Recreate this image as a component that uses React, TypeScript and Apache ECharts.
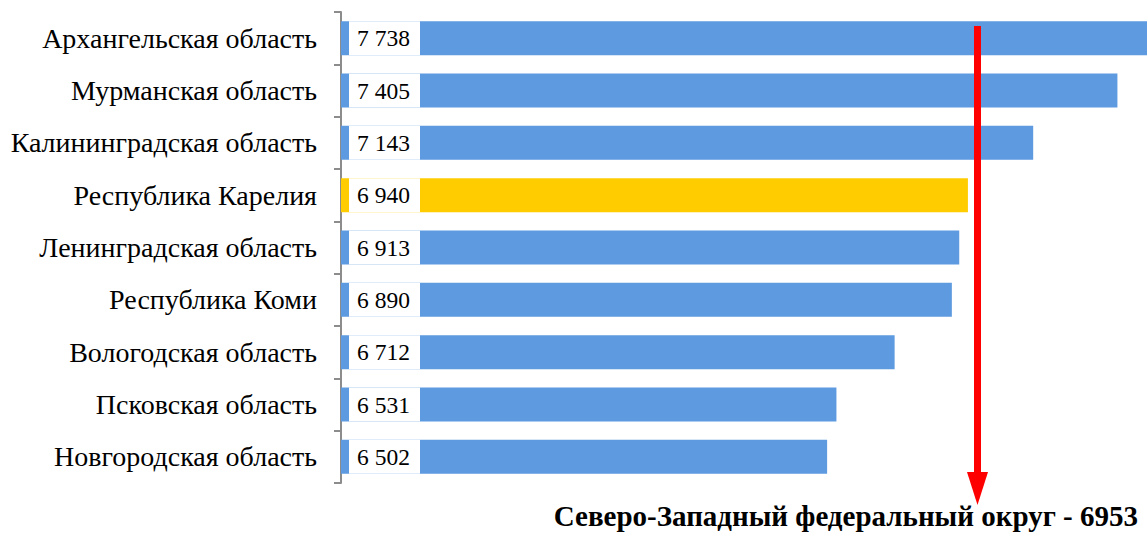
import React, { useEffect, useRef } from "react";
import * as echarts from "echarts";

const categories = [
  "Архангельская область",
  "Мурманская область",
  "Калининградская область",
  "Республика Карелия",
  "Ленинградская область",
  "Республика Коми",
  "Вологодская область",
  "Псковская область",
  "Новгородская область",
];
const values = [7738, 7405, 7143, 6940, 6913, 6890, 6712, 6531, 6502];
const highlighted = "Республика Карелия";
const districtLabel = "Северо-Западный федеральный округ - 6953";

const FONT = "'Times New Roman', 'Liberation Serif', serif";

const fmt = (v: number) => {
  const s = String(v);
  return s.length > 3 ? s.slice(0, s.length - 3) + " " + s.slice(-3) : s;
};

export default function App() {
  const ref = useRef<HTMLDivElement>(null);
  useEffect(() => {
    const chart = echarts.init(ref.current!, null, { renderer: "svg" });
    chart.setOption({
      animation: false,
      textStyle: { fontFamily: FONT },
      grid: { left: 341, right: 0, top: 12, bottom: 50 },
      xAxis: {
        type: "value",
        min: 4990,
        max: 7497,
        show: false,
      },
      yAxis: {
        type: "category",
        data: categories,
        inverse: true,
        axisLine: { show: true, lineStyle: { color: "#8c8c8c", width: 2 } },
        axisTick: { show: true, length: 7, lineStyle: { color: "#8c8c8c", width: 2 } },
        axisLabel: {
          margin: 24,
          color: "#000",
          fontFamily: FONT,
          fontSize: 28,
        },
      },
      series: [
        {
          type: "bar",
          barWidth: 34,
          data: categories.map((c, i) => ({
            value: values[i],
            itemStyle: { color: c === highlighted ? "#FFCC00" : "#5D9AE0" },
          })),
          label: {
            show: true,
            position: "insideLeft",
            distance: 8,
            formatter: (p: any) => fmt(p.value),
            backgroundColor: "#fff",
            color: "#000",
            fontFamily: FONT,
            fontSize: 23.5,
            width: 63,
            height: 34,
            lineHeight: 34,
            padding: [0, 0, 0, 8],
          },
        },
      ],
      graphic: [
        {
          type: "rect",
          z: 100,
          shape: { x: 974, y: 26, width: 7, height: 447 },
          style: { fill: "#FF0000" },
        },
        {
          type: "polygon",
          z: 100,
          shape: { points: [[967, 472], [988, 472], [977.5, 505]] },
          style: { fill: "#FF0000" },
        },
        {
          type: "text",
          z: 100,
          x: 1138,
          y: 516,
          style: {
            text: districtLabel,
            fill: "#000",
            fontFamily: FONT,
            fontWeight: "bold",
            fontSize: 29,
            align: "right",
            verticalAlign: "middle",
          },
        },
      ],
    });
    return () => chart.dispose();
  }, []);
  return (
    <div
      ref={ref}
      style={{ position: "fixed", left: 0, top: 0, width: 1147, height: 533, background: "#fff" }}
    />
  );
}
